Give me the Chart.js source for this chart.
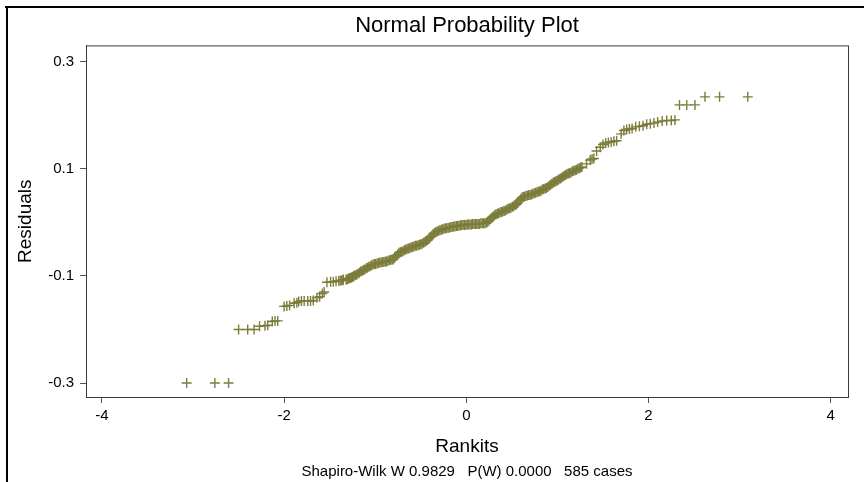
<!DOCTYPE html>
<html>
<head>
<meta charset="utf-8">
<script src="https://cdn.jsdelivr.net/npm/chart.js@4.4.1/dist/chart.umd.min.js"></script>
<style>
  html, body { margin: 0; padding: 0; background: #fff; }
  #wrap { width: 864px; height: 482px; position: relative; }
</style>
</head>
<body>
<div id="wrap"><canvas id="npp" width="864" height="482"></canvas></div>
<script>
// rankits (x) and residuals (y)
const rankits = [
  -3.07, -2.76, -2.61,
  -2.50, -2.40, -2.33, -2.27, -2.21, -2.18, -2.13, -2.10, -2.07,
  -2.00, -1.97, -1.94, -1.89, -1.86, -1.84, -1.81, -1.78, -1.74, -1.71, -1.68,
  -1.64, -1.61, -1.58, -1.56,
  -1.53, -1.49, -1.46, -1.43, -1.40, -1.385, -1.37, -1.355, -1.35, -1.32, -1.31,
  -1.30, -1.29, -1.28, -1.27, -1.26, -1.25, -1.24, -1.235,
  -1.220, -1.205, -1.190, -1.175, -1.160, -1.145, -1.130, -1.115, -1.100, -1.085,
  -1.070, -1.055, -1.040, -1.025, -1.010, -0.995, -0.980, -0.965, -0.950, -0.935,
  -0.920, -0.905, -0.890, -0.875, -0.860, -0.845, -0.830, -0.815, -0.800, -0.785,
  -0.770, -0.755, -0.740, -0.725, -0.710, -0.695, -0.680, -0.665, -0.650, -0.635,
  -0.620, -0.605, -0.590, -0.575, -0.560, -0.545, -0.530, -0.515, -0.500, -0.485,
  -0.470, -0.455, -0.440, -0.425, -0.410, -0.395, -0.380, -0.365, -0.350, -0.335,
  -0.320, -0.305, -0.290, -0.275, -0.260, -0.245, -0.230, -0.215, -0.200, -0.185,
  -0.170, -0.155, -0.140, -0.125, -0.110, -0.095, -0.080, -0.065, -0.050, -0.035,
  -0.020, -0.005, 0.010, 0.025, 0.040, 0.055, 0.070, 0.085, 0.100, 0.115,
  0.130, 0.145, 0.160, 0.175, 0.190, 0.205, 0.220, 0.235, 0.250, 0.265,
  0.280, 0.295, 0.310, 0.325, 0.340, 0.355, 0.370, 0.385, 0.400, 0.415,
  0.430, 0.445, 0.460, 0.475, 0.490, 0.505, 0.520, 0.535, 0.550, 0.565,
  0.580, 0.595, 0.610, 0.625, 0.640, 0.655, 0.670, 0.685, 0.700, 0.715,
  0.730, 0.745, 0.760, 0.775, 0.790, 0.805, 0.820, 0.835, 0.850, 0.865,
  0.880, 0.895, 0.910, 0.925, 0.940, 0.955, 0.970, 0.985, 1.000, 1.015,
  1.030, 1.045, 1.060, 1.075, 1.090, 1.105, 1.120, 1.135, 1.150, 1.165,
  1.180, 1.195, 1.210, 1.225, 1.240, 1.255, 1.270,
  1.32, 1.36, 1.38, 1.40, 1.43, 1.47, 1.50,
  1.53, 1.56, 1.59, 1.62, 1.65,
  1.70, 1.73, 1.76, 1.79, 1.82, 1.86, 1.90, 1.94,
  1.98, 2.02, 2.06, 2.10, 2.15, 2.20, 2.25, 2.29,
  2.34, 2.42, 2.51,
  2.62, 2.78, 3.09
];
const residuals = [
  -0.300, -0.300, -0.300,
  -0.200, -0.200, -0.200, -0.194, -0.193, -0.192, -0.185, -0.184, -0.184,
  -0.157, -0.156, -0.155, -0.151, -0.150, -0.148, -0.147, -0.147, -0.147, -0.147, -0.146,
  -0.141, -0.139, -0.133, -0.130,
  -0.112, -0.111, -0.111, -0.110, -0.109, -0.109, -0.108, -0.108, -0.107, -0.107, -0.107,
  -0.106, -0.105, -0.104, -0.104, -0.103, -0.102, -0.101, -0.100,
  -0.099, -0.098, -0.096, -0.094, -0.092, -0.091, -0.089, -0.088, -0.086, -0.085,
  -0.083, -0.082, -0.080, -0.079, -0.078, -0.078, -0.077, -0.076, -0.075, -0.075,
  -0.074, -0.074, -0.073, -0.073, -0.072, -0.071, -0.070, -0.070, -0.069, -0.066,
  -0.063, -0.060, -0.057, -0.056, -0.055, -0.054, -0.052, -0.051, -0.050, -0.049,
  -0.048, -0.047, -0.046, -0.045, -0.044, -0.044, -0.043, -0.042, -0.041, -0.040,
  -0.038, -0.037, -0.035, -0.033, -0.031, -0.028, -0.025, -0.022, -0.020, -0.018,
  -0.017, -0.016, -0.015, -0.014, -0.013, -0.012, -0.011, -0.011, -0.010, -0.010,
  -0.009, -0.009, -0.008, -0.008, -0.007, -0.007, -0.006, -0.006, -0.005, -0.005,
  -0.005, -0.005, -0.004, -0.004, -0.004, -0.004, -0.003, -0.003, -0.003, -0.003,
  -0.003, -0.003, -0.002, -0.002, -0.002, -0.002, -0.001, 0.001, 0.003, 0.006,
  0.009, 0.011, 0.013, 0.015, 0.016, 0.017, 0.018, 0.019, 0.020, 0.021,
  0.022, 0.024, 0.025, 0.026, 0.027, 0.029, 0.030, 0.032, 0.033, 0.036,
  0.040, 0.043, 0.046, 0.047, 0.048, 0.049, 0.050, 0.051, 0.051, 0.052,
  0.053, 0.054, 0.055, 0.056, 0.057, 0.058, 0.059, 0.061, 0.062, 0.063,
  0.064, 0.066, 0.068, 0.070, 0.072, 0.074, 0.075, 0.077, 0.078, 0.080,
  0.081, 0.083, 0.085, 0.087, 0.088, 0.090, 0.091, 0.092, 0.093, 0.095,
  0.096, 0.097, 0.098, 0.100, 0.101, 0.102, 0.103,
  0.109, 0.116, 0.118, 0.119, 0.133, 0.140, 0.145,
  0.148, 0.149, 0.150, 0.151, 0.152,
  0.165, 0.171, 0.173, 0.174, 0.175, 0.178, 0.179, 0.180,
  0.183, 0.184, 0.185, 0.187, 0.189, 0.190, 0.190, 0.191,
  0.219, 0.219, 0.219,
  0.234, 0.234, 0.234
];
const xTicks = [-4, -2, 0, 2, 4];
const yTicks = [-0.3, -0.1, 0.1, 0.3];

const FONT = "'Liberation Sans', Arial, sans-serif";
const OLIVE = "#7d7d3b";

// box round the plot area and the black frame lines of the window
const framePlugin = {
  id: "frame",
  beforeDraw(chart) {
    const c = chart.ctx;
    c.save();
    c.fillStyle = "#fff";
    c.fillRect(0, 0, chart.width, chart.height);
    c.strokeStyle = "#000";
    c.lineWidth = 2;
    c.beginPath();
    c.moveTo(5, 7);
    c.lineTo(chart.width, 7);
    c.moveTo(7, 7);
    c.lineTo(7, chart.height);
    c.stroke();
    c.restore();
  },
  afterDraw(chart) {
    const a = chart.chartArea;
    const c = chart.ctx;
    c.save();
    c.strokeStyle = "#3a3a3a";
    c.lineWidth = 1;
    c.strokeRect(a.left + 0.5, a.top + 0.5, a.right - a.left, a.bottom - a.top);
    c.restore();
  }
};

const points = rankits.map((x, i) => ({ x: x, y: residuals[i] }));

new Chart(document.getElementById("npp"), {
  type: "scatter",
  data: {
    datasets: [{
      data: points,
      pointStyle: "cross",
      pointRadius: 5,
      pointHoverRadius: 5,
      borderWidth: 1.4,
      borderColor: OLIVE,
      backgroundColor: OLIVE
    }]
  },
  options: {
    responsive: false,
    animation: false,
    events: [],
    layout: { padding: { left: 0, top: 0, right: 16, bottom: 0 } },
    plugins: {
      legend: { display: false },
      tooltip: { enabled: false },
      title: {
        display: true,
        fullSize: false,
        text: "Normal Probability Plot",
        color: "#000",
        font: { family: FONT, size: 22, weight: "normal" },
        padding: { top: 13, bottom: 6 }
      },
      subtitle: {
        display: true,
        fullSize: false,
        position: "bottom",
        text: "Shapiro-Wilk W 0.9829   P(W) 0.0000   585 cases",
        color: "#000",
        font: { family: FONT, size: 15, weight: "normal" },
        padding: { top: 0, bottom: 1 }
      }
    },
    scales: {
      x: {
        type: "linear",
        min: -4.175,
        max: 4.19,
        afterBuildTicks: axis => { axis.ticks = xTicks.map(v => ({ value: v })); },
        afterFit: scale => { scale.height = 66; },
        ticks: {
          color: "#000",
          font: { family: FONT, size: 15 },
          padding: 4,
          maxRotation: 0
        },
        grid: { drawOnChartArea: false, drawTicks: true, tickLength: 6, color: "#555" },
        border: { display: true, color: "#3a3a3a" },
        title: {
          display: true,
          text: "Rankits",
          color: "#000",
          font: { family: FONT, size: 19 },
          padding: { top: 0, bottom: 5 }
        }
      },
      y: {
        type: "linear",
        min: -0.326,
        max: 0.33,
        afterBuildTicks: axis => { axis.ticks = yTicks.map(v => ({ value: v })); },
        afterFit: scale => { scale.width = 86; },
        ticks: {
          color: "#000",
          font: { family: FONT, size: 15 },
          padding: 6,
          callback: v => v.toFixed(1)
        },
        grid: { drawOnChartArea: false, drawTicks: true, tickLength: 6, color: "#555" },
        border: { display: true, color: "#3a3a3a" },
        title: {
          display: true,
          text: "Residuals",
          color: "#000",
          font: { family: FONT, size: 19 },
          padding: { top: 14, bottom: 0 }
        }
      }
    }
  },
  plugins: [framePlugin]
});
</script>
</body>
</html>
